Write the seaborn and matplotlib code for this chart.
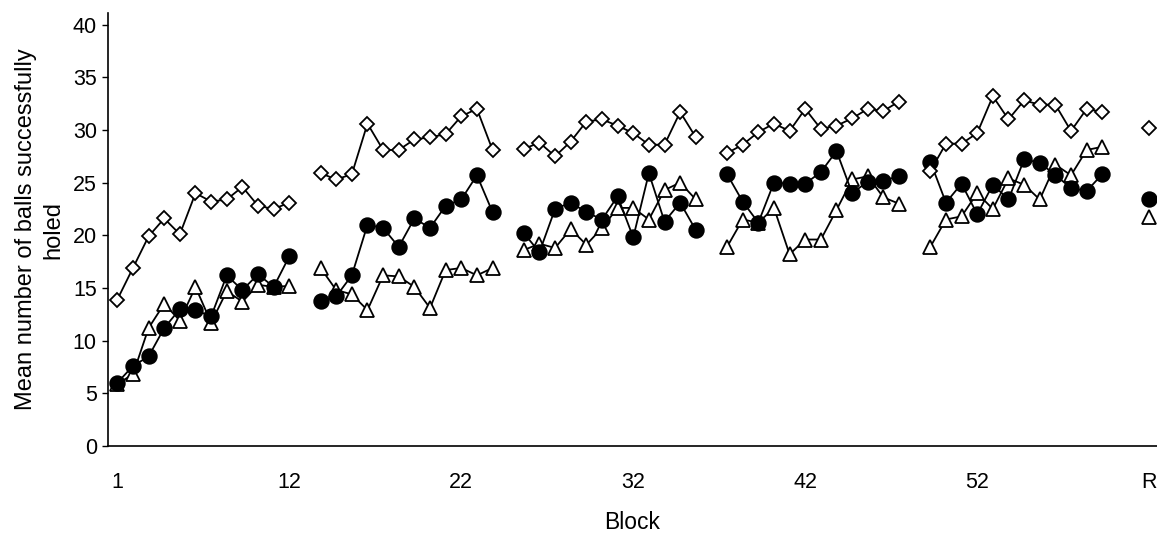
import pandas as pd
import matplotlib
matplotlib.use('Agg')
import matplotlib.pyplot as plt
import seaborn as sns

# ==== data (blocks 1-60, then retention R) ====
diamond = [13.9, 16.9, 19.9, 21.6, 20.1, 24.0, 23.2, 23.4, 24.6, 22.8, 22.5, 23.1,
           25.9, 25.3, 25.8, 30.6, 28.1, 28.1, 29.1, 29.3, 29.6, 31.3, 32.0, 28.1,
           28.2, 28.8, 27.5, 28.9, 30.8, 31.0, 30.4, 29.7, 28.6, 28.6, 31.7, 29.3,
           27.8, 28.6, 29.8, 30.6, 29.9, 32.0, 30.1, 30.4, 31.1, 32.0, 31.8, 32.7,
           26.1, 28.7, 28.7, 29.7, 33.2, 31.0, 32.8, 32.4, 32.4, 29.9, 32.0, 31.7]
circle = [6.0, 7.6, 8.5, 11.2, 13.0, 12.9, 12.3, 16.2, 14.8, 16.3, 15.1, 18.0,
          13.8, 14.2, 16.2, 21.0, 20.7, 18.9, 21.6, 20.7, 22.8, 23.4, 25.7, 22.2,
          20.2, 18.4, 22.5, 23.1, 22.2, 21.5, 23.7, 19.8, 25.9, 21.3, 23.1, 20.5,
          25.8, 23.2, 21.2, 25.0, 24.9, 24.9, 26.0, 28.0, 24.0, 25.1, 25.2, 25.6,
          27.0, 23.1, 24.9, 22.0, 24.8, 23.4, 27.2, 26.9, 25.7, 24.5, 24.2, 25.8]
triangle = [5.9, 6.8, 11.2, 13.5, 11.9, 15.1, 11.7, 14.7, 13.7, 15.3, 15.1, 15.2,
            16.9, 14.8, 14.4, 12.9, 16.2, 16.1, 15.1, 13.1, 16.7, 16.9, 16.2, 16.9,
            18.6, 19.2, 18.8, 20.6, 19.1, 20.7, 22.6, 22.6, 21.5, 24.3, 25.0, 23.4,
            18.9, 21.5, 21.2, 22.6, 18.2, 19.6, 19.6, 22.4, 25.3, 25.6, 23.6, 23.0,
            18.9, 21.5, 21.8, 24.0, 22.5, 25.4, 24.8, 23.4, 26.7, 25.7, 28.1, 28.4]
retention = {'diamond': 30.2, 'circle': 23.4, 'triangle': 21.7}

tick_blocks = [1, 12, 22, 32, 42, 52]
tick_labels = ['1', '12', '22', '32', '42', '52', 'R']

# ==== build long table: 5 sessions of 12 blocks, gap between sessions ====
rows = []
for name, vals in [('triangle', triangle), ('circle', circle), ('diamond', diamond)]:
    for i, v in enumerate(vals):
        seg = i // 12
        rows.append({'group': name, 'pos': i + seg, 'seg': seg, 'val': v})
    rows.append({'group': name, 'pos': 66, 'seg': 5, 'val': retention[name]})
df = pd.DataFrame(rows)

sns.set_style('white')
plt.rcParams['font.family'] = ['Liberation Sans', 'DejaVu Sans']
plt.rcParams['text.color'] = 'black'
plt.rcParams['axes.labelcolor'] = 'black'
plt.rcParams['xtick.color'] = 'black'
plt.rcParams['ytick.color'] = 'black'

fig = plt.figure(figsize=(11.57, 5.33), dpi=100)
ax = fig.add_axes([0.0933, 0.1632, 0.9067, 0.8124])

styles = {
    'triangle': dict(marker='^', markersize=10.5, markerfacecolor='white'),
    'circle': dict(marker='o', markersize=10.5, markerfacecolor='black'),
    'diamond': dict(marker='D', markersize=7, markerfacecolor='white'),
}
for name in ['triangle', 'circle', 'diamond']:
    sub = df[df['group'] == name]
    sns.lineplot(data=sub, x='pos', y='val', units='seg', estimator=None,
                 color='black', linewidth=1.3, markeredgecolor='black',
                 markeredgewidth=1.3, ax=ax, legend=False, **styles[name])

ax.set_xlim(-0.6, 66.5)
ax.set_ylim(0, 41.1)
ax.set_yticks(range(0, 45, 5))
ticks = [b - 1 + (b - 1) // 12 for b in tick_blocks] + [66]
ax.set_xticks(ticks)
ax.set_xticklabels(tick_labels)
ax.tick_params(axis='x', length=0, pad=19, labelsize=15.5)
ax.tick_params(axis='y', direction='out', length=4, width=1, pad=4,
               left=True, labelsize=15.5)
sns.despine(ax=ax)
for s in ['left', 'bottom']:
    ax.spines[s].set_color('black')
    ax.spines[s].set_linewidth(1.2)

ax.set_xlabel('Block', fontsize=16.5, labelpad=13)
ax.set_ylabel('Mean number of balls successfully\nholed', fontsize=17,
              labelpad=6, linespacing=1.3)

plt.savefig('out.png', dpi=100)
